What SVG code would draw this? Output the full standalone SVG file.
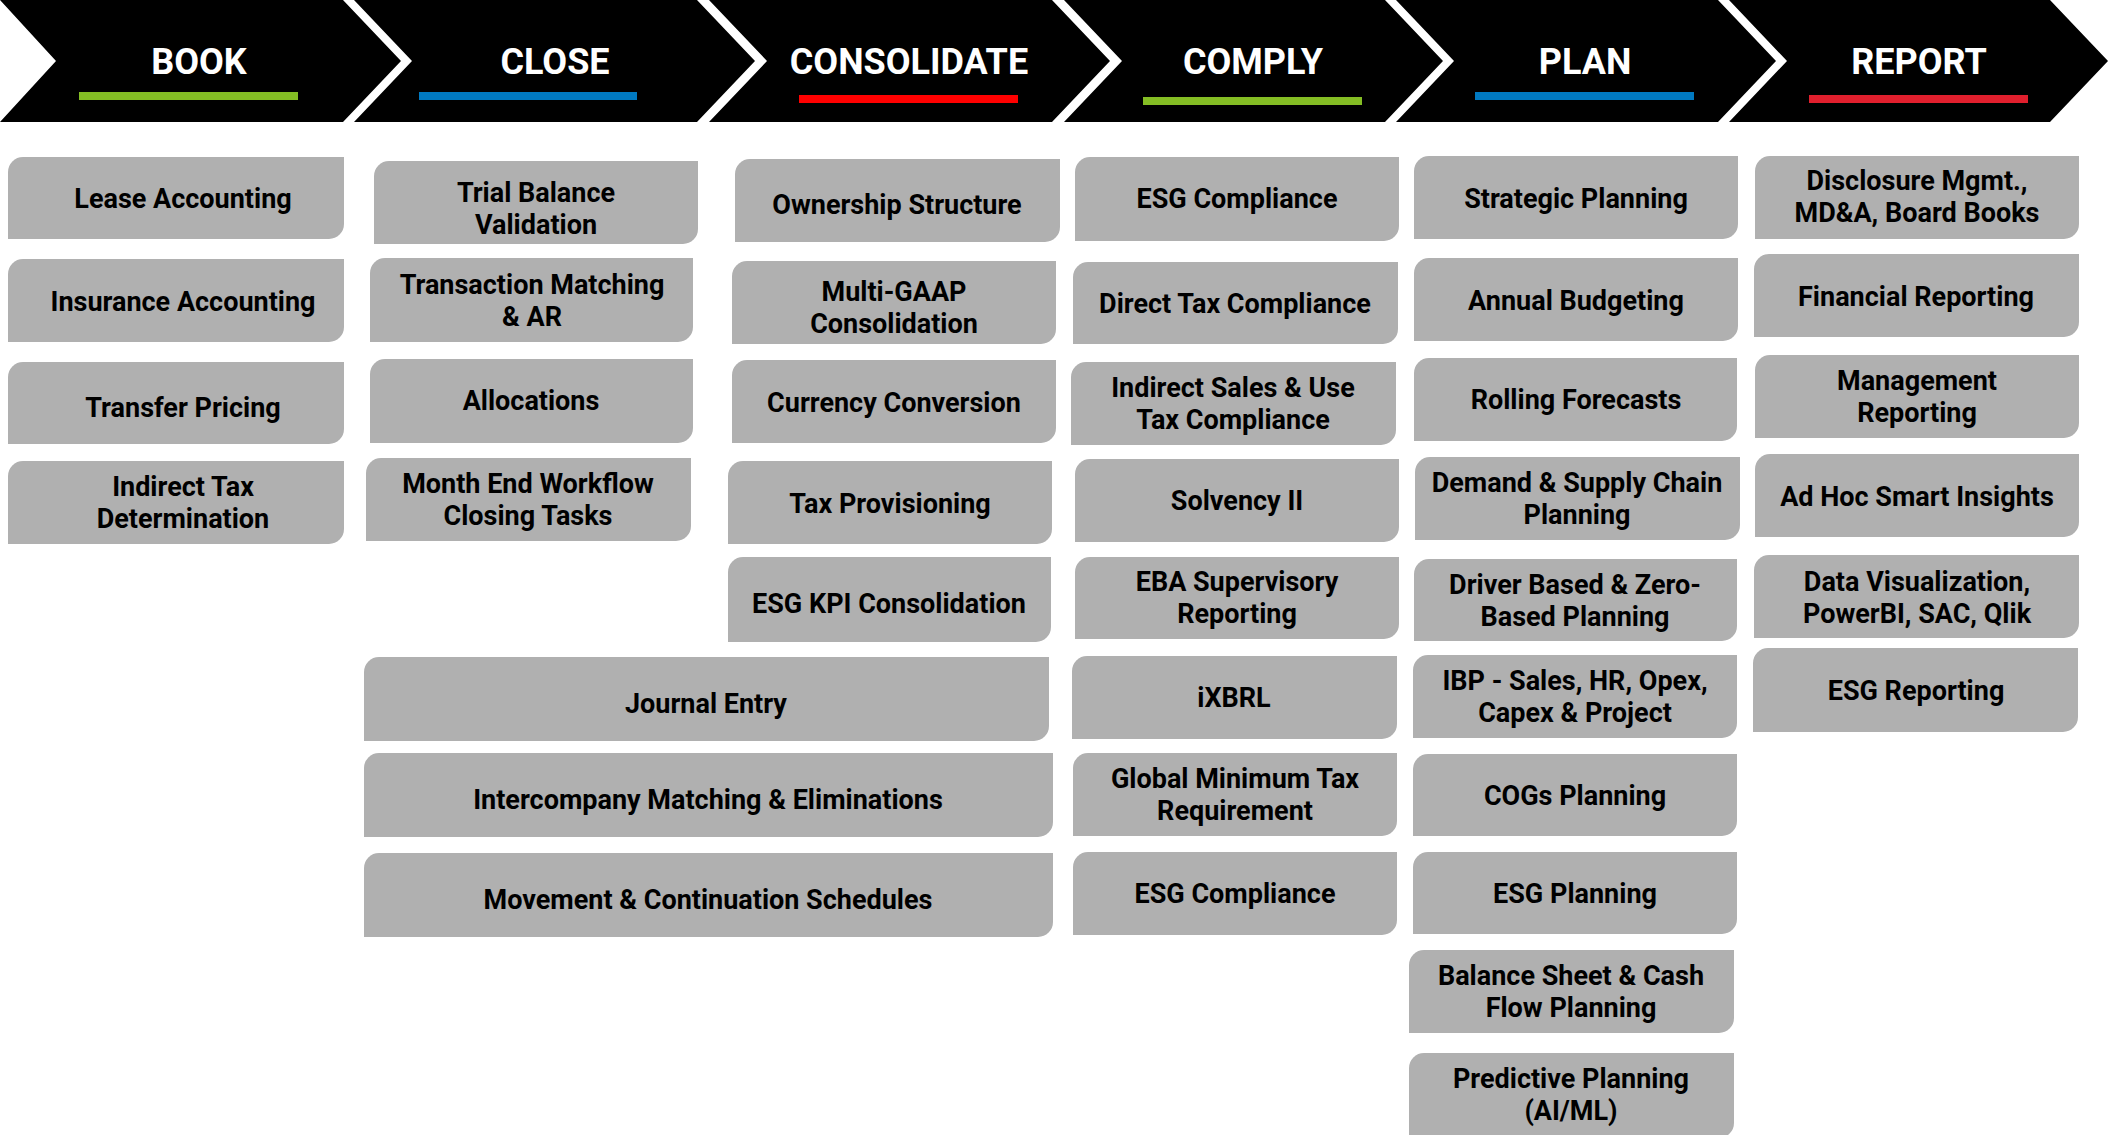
<svg xmlns="http://www.w3.org/2000/svg" width="2108" height="1135" viewBox="0 0 2108 1135">
<style>
.chev{fill:#000}
.hd{font-family:Roboto,"Liberation Sans",sans-serif;font-weight:700;font-size:36px;fill:#fff;text-anchor:middle}
.box{fill:#b0b0b0}
.t{font-family:Roboto,"Liberation Sans",sans-serif;font-weight:700;font-size:27px;fill:#000;text-anchor:middle}
</style>
<rect width="2108" height="1135" fill="#fff"/>
<g id="header">
<g id="h-book"><path class="chev" d="M0,0 H343 L401,61 L343,122 H0 L56,61 Z"/><text class="hd" x="199" y="74">BOOK</text><rect x="79" y="92" width="219" height="8" fill="#84bd24"/></g>
<g id="h-close"><path class="chev" d="M354,0 H697 L755,61 L697,122 H354 L412,61 Z"/><text class="hd" x="555" y="74">CLOSE</text><rect x="419" y="92" width="218" height="8" fill="#0079c1"/></g>
<g id="h-consolidate"><path class="chev" d="M709,0 H1052 L1110,61 L1052,122 H709 L767,61 Z"/><text class="hd" x="909" y="74">CONSOLIDATE</text><rect x="799" y="95" width="219" height="8" fill="#ff0000"/></g>
<g id="h-comply"><path class="chev" d="M1064,0 H1385 L1443,61 L1385,122 H1064 L1122,61 Z"/><text class="hd" x="1253" y="74">COMPLY</text><rect x="1143" y="97" width="219" height="8" fill="#84bd24"/></g>
<g id="h-plan"><path class="chev" d="M1396,0 H1718 L1776,61 L1718,122 H1396 L1454,61 Z"/><text class="hd" x="1585" y="74">PLAN</text><rect x="1475" y="92" width="219" height="8" fill="#0079c1"/></g>
<g id="h-report"><path class="chev" d="M1729,0 H2050 L2108,61 L2050,122 H1729 L1787,61 Z"/><text class="hd" x="1919" y="74">REPORT</text><rect x="1809" y="95" width="219" height="8" fill="#e01f2d"/></g>
</g>
<g id="connectors"></g>

<!-- BOOK -->
<g id="lease-accounting"><path class="box" d="M23,157 H344 V224 A15,15 0 0 1 329,239 H8 V172 A15,15 0 0 1 23,157 Z"/><text class="t" x="183" y="208">Lease Accounting</text></g>
<g id="insurance-accounting"><path class="box" d="M23,259 H344 V327 A15,15 0 0 1 329,342 H8 V274 A15,15 0 0 1 23,259 Z"/><text class="t" x="183" y="311">Insurance Accounting</text></g>
<g id="transfer-pricing"><path class="box" d="M23,362 H344 V429 A15,15 0 0 1 329,444 H8 V377 A15,15 0 0 1 23,362 Z"/><text class="t" x="183" y="417">Transfer Pricing</text></g>
<g id="indirect-tax"><path class="box" d="M23,461 H344 V529 A15,15 0 0 1 329,544 H8 V476 A15,15 0 0 1 23,461 Z"/><text class="t" x="183" y="496">Indirect Tax</text><text class="t" x="183" y="528">Determination</text></g>

<!-- CLOSE -->
<g id="trial-balance"><path class="box" d="M389,161 H698 V229 A15,15 0 0 1 683,244 H374 V176 A15,15 0 0 1 389,161 Z"/><text class="t" x="536" y="202">Trial Balance</text><text class="t" x="536" y="234">Validation</text></g>
<g id="transaction-matching"><path class="box" d="M385,258 H693 V327 A15,15 0 0 1 678,342 H370 V273 A15,15 0 0 1 385,258 Z"/><text class="t" x="532" y="294">Transaction Matching</text><text class="t" x="532" y="326">&amp; AR</text></g>
<g id="allocations"><path class="box" d="M385,359 H693 V428 A15,15 0 0 1 678,443 H370 V374 A15,15 0 0 1 385,359 Z"/><text class="t" x="531" y="410">Allocations</text></g>
<g id="month-end"><path class="box" d="M381,458 H691 V526 A15,15 0 0 1 676,541 H366 V473 A15,15 0 0 1 381,458 Z"/><text class="t" x="528" y="493">Month End Workflow</text><text class="t" x="528" y="525">Closing Tasks</text></g>
<g id="journal-entry"><path class="box" d="M379,657 H1049 V726 A15,15 0 0 1 1034,741 H364 V672 A15,15 0 0 1 379,657 Z"/><text class="t" x="706" y="713">Journal Entry</text></g>
<g id="intercompany"><path class="box" d="M379,753 H1053 V822 A15,15 0 0 1 1038,837 H364 V768 A15,15 0 0 1 379,753 Z"/><text class="t" x="708" y="809">Intercompany Matching &amp; Eliminations</text></g>
<g id="movement"><path class="box" d="M379,853 H1053 V922 A15,15 0 0 1 1038,937 H364 V868 A15,15 0 0 1 379,853 Z"/><text class="t" x="708" y="909">Movement &amp; Continuation Schedules</text></g>

<!-- CONSOLIDATE -->
<g id="ownership"><path class="box" d="M750,159 H1060 V227 A15,15 0 0 1 1045,242 H735 V174 A15,15 0 0 1 750,159 Z"/><text class="t" x="897" y="214">Ownership Structure</text></g>
<g id="multi-gaap"><path class="box" d="M747,261 H1056 V329 A15,15 0 0 1 1041,344 H732 V276 A15,15 0 0 1 747,261 Z"/><text class="t" x="894" y="301">Multi-GAAP</text><text class="t" x="894" y="333">Consolidation</text></g>
<g id="currency"><path class="box" d="M747,360 H1056 V428 A15,15 0 0 1 1041,443 H732 V375 A15,15 0 0 1 747,360 Z"/><text class="t" x="894" y="412">Currency Conversion</text></g>
<g id="tax-provisioning"><path class="box" d="M743,461 H1052 V529 A15,15 0 0 1 1037,544 H728 V476 A15,15 0 0 1 743,461 Z"/><text class="t" x="890" y="513">Tax Provisioning</text></g>
<g id="esg-kpi"><path class="box" d="M743,557 H1051 V627 A15,15 0 0 1 1036,642 H728 V572 A15,15 0 0 1 743,557 Z"/><text class="t" x="889" y="613">ESG KPI Consolidation</text></g>

<!-- COMPLY -->
<g id="esg-compliance-1"><path class="box" d="M1090,157 H1399 V226 A15,15 0 0 1 1384,241 H1075 V172 A15,15 0 0 1 1090,157 Z"/><text class="t" x="1237" y="208">ESG Compliance</text></g>
<g id="direct-tax"><path class="box" d="M1088,262 H1398 V329 A15,15 0 0 1 1383,344 H1073 V277 A15,15 0 0 1 1088,262 Z"/><text class="t" x="1235" y="313">Direct Tax Compliance</text></g>
<g id="indirect-sales"><path class="box" d="M1086,362 H1396 V430 A15,15 0 0 1 1381,445 H1071 V377 A15,15 0 0 1 1086,362 Z"/><text class="t" x="1233" y="397">Indirect Sales &amp; Use</text><text class="t" x="1233" y="429">Tax Compliance</text></g>
<g id="solvency"><path class="box" d="M1090,459 H1399 V527 A15,15 0 0 1 1384,542 H1075 V474 A15,15 0 0 1 1090,459 Z"/><text class="t" x="1237" y="510">Solvency II</text></g>
<g id="eba"><path class="box" d="M1090,557 H1399 V624 A15,15 0 0 1 1384,639 H1075 V572 A15,15 0 0 1 1090,557 Z"/><text class="t" x="1237" y="591">EBA Supervisory</text><text class="t" x="1237" y="623">Reporting</text></g>
<g id="ixbrl"><path class="box" d="M1087,656 H1397 V724 A15,15 0 0 1 1382,739 H1072 V671 A15,15 0 0 1 1087,656 Z"/><text class="t" x="1234" y="707">iXBRL</text></g>
<g id="global-min-tax"><path class="box" d="M1088,753 H1397 V821 A15,15 0 0 1 1382,836 H1073 V768 A15,15 0 0 1 1088,753 Z"/><text class="t" x="1235" y="788">Global Minimum Tax</text><text class="t" x="1235" y="820">Requirement</text></g>
<g id="esg-compliance-2"><path class="box" d="M1088,852 H1397 V920 A15,15 0 0 1 1382,935 H1073 V867 A15,15 0 0 1 1088,852 Z"/><text class="t" x="1235" y="903">ESG Compliance</text></g>

<!-- PLAN -->
<g id="strategic"><path class="box" d="M1429,156 H1738 V224 A15,15 0 0 1 1723,239 H1414 V171 A15,15 0 0 1 1429,156 Z"/><text class="t" x="1576" y="208">Strategic Planning</text></g>
<g id="annual-budgeting"><path class="box" d="M1429,258 H1738 V326 A15,15 0 0 1 1723,341 H1414 V273 A15,15 0 0 1 1429,258 Z"/><text class="t" x="1576" y="310">Annual Budgeting</text></g>
<g id="rolling"><path class="box" d="M1429,358 H1737 V426 A15,15 0 0 1 1722,441 H1414 V373 A15,15 0 0 1 1429,358 Z"/><text class="t" x="1576" y="409">Rolling Forecasts</text></g>
<g id="demand-supply"><path class="box" d="M1430,457 H1740 V525 A15,15 0 0 1 1725,540 H1415 V472 A15,15 0 0 1 1430,457 Z"/><text class="t" x="1577" y="492">Demand &amp; Supply Chain</text><text class="t" x="1577" y="524">Planning</text></g>
<g id="driver-based"><path class="box" d="M1429,559 H1737 V626 A15,15 0 0 1 1722,641 H1414 V574 A15,15 0 0 1 1429,559 Z"/><text class="t" x="1575" y="594">Driver Based &amp; Zero-</text><text class="t" x="1575" y="626">Based Planning</text></g>
<g id="ibp"><path class="box" d="M1428,655 H1737 V723 A15,15 0 0 1 1722,738 H1413 V670 A15,15 0 0 1 1428,655 Z"/><text class="t" x="1575" y="690">IBP - Sales, HR, Opex,</text><text class="t" x="1575" y="722">Capex &amp; Project</text></g>
<g id="cogs"><path class="box" d="M1428,754 H1737 V821 A15,15 0 0 1 1722,836 H1413 V769 A15,15 0 0 1 1428,754 Z"/><text class="t" x="1575" y="805">COGs Planning</text></g>
<g id="esg-planning"><path class="box" d="M1428,852 H1737 V919 A15,15 0 0 1 1722,934 H1413 V867 A15,15 0 0 1 1428,852 Z"/><text class="t" x="1575" y="903">ESG Planning</text></g>
<g id="balance-sheet"><path class="box" d="M1424,950 H1734 V1018 A15,15 0 0 1 1719,1033 H1409 V965 A15,15 0 0 1 1424,950 Z"/><text class="t" x="1571" y="985">Balance Sheet &amp; Cash</text><text class="t" x="1571" y="1017">Flow Planning</text></g>
<g id="predictive"><path class="box" d="M1424,1053 H1734 V1123 A15,15 0 0 1 1719,1138 H1409 V1068 A15,15 0 0 1 1424,1053 Z"/><text class="t" x="1571" y="1088">Predictive Planning</text><text class="t" x="1571" y="1120">(AI/ML)</text></g>

<!-- REPORT -->
<g id="disclosure"><path class="box" d="M1770,156 H2079 V224 A15,15 0 0 1 2064,239 H1755 V171 A15,15 0 0 1 1770,156 Z"/><text class="t" x="1917" y="190">Disclosure Mgmt.,</text><text class="t" x="1917" y="222">MD&amp;A, Board Books</text></g>
<g id="financial-reporting"><path class="box" d="M1769,254 H2079 V322 A15,15 0 0 1 2064,337 H1754 V269 A15,15 0 0 1 1769,254 Z"/><text class="t" x="1916" y="306">Financial Reporting</text></g>
<g id="management-reporting"><path class="box" d="M1770,355 H2079 V423 A15,15 0 0 1 2064,438 H1755 V370 A15,15 0 0 1 1770,355 Z"/><text class="t" x="1917" y="390">Management</text><text class="t" x="1917" y="422">Reporting</text></g>
<g id="ad-hoc"><path class="box" d="M1770,454 H2079 V522 A15,15 0 0 1 2064,537 H1755 V469 A15,15 0 0 1 1770,454 Z"/><text class="t" x="1917" y="506">Ad Hoc Smart Insights</text></g>
<g id="data-vis"><path class="box" d="M1769,555 H2079 V623 A15,15 0 0 1 2064,638 H1754 V570 A15,15 0 0 1 1769,555 Z"/><text class="t" x="1917" y="591">Data Visualization,</text><text class="t" x="1917" y="623">PowerBI, SAC, Qlik</text></g>
<g id="esg-reporting"><path class="box" d="M1768,648 H2078 V717 A15,15 0 0 1 2063,732 H1753 V663 A15,15 0 0 1 1768,648 Z"/><text class="t" x="1916" y="700">ESG Reporting</text></g>
</svg>
